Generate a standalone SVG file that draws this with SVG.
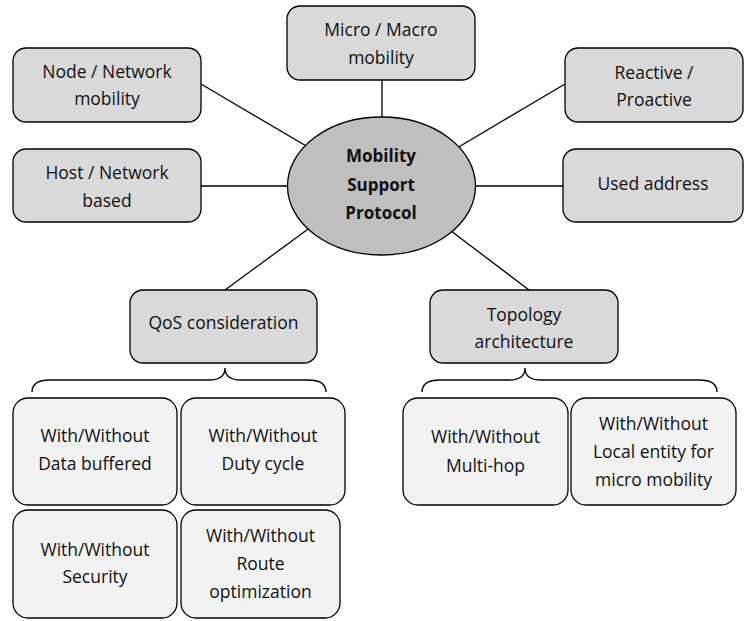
<svg xmlns="http://www.w3.org/2000/svg" width="744" height="621" viewBox="0 0 744 621">
<style>
.main{fill:#d9d9d9;stroke:#000;stroke-width:1.3}
.sub{fill:#f2f2f2;stroke:#000;stroke-width:1.3}
.hub{fill:#bfbfbf;stroke:#000;stroke-width:1.3}
.conn line,.conn path{stroke:#000;stroke-width:1.3;fill:none}
text{font-family:"Open Sans","Noto Sans",sans-serif;font-size:17.5px;fill:#111;text-anchor:middle}
.b{font-weight:bold;font-size:17px}
</style>
<rect width="744" height="621" fill="#fff"/>
<g id="connectors" class="conn">
<line x1="201" y1="84" x2="330" y2="160"/>
<line x1="201" y1="186" x2="300" y2="186"/>
<line x1="382" y1="80" x2="382" y2="130"/>
<line x1="565" y1="84" x2="430" y2="164"/>
<line x1="563" y1="186" x2="460" y2="186"/>
<line x1="225" y1="290" x2="330" y2="213"/>
<line x1="529" y1="290" x2="430" y2="215"/>
<path d="M32,392 C32,384 38,380 50,380 L209,380 C219,380 225,376 225,368 C225,376 231,380 241,380 L308,380 C320,380 326,384 326,392"/>
<path d="M422,392 C422,384 428,380 440,380 L509,380 C519,380 525,376 525,368 C525,376 531,380 541,380 L699,380 C711,380 717,384 717,392"/>
</g>
<g id="hub"><ellipse class="hub" cx="381.5" cy="186" rx="94" ry="69"/>
<text class="b" x="381" y="162">Mobility</text><text class="b" x="381" y="190.5">Support</text><text class="b" x="381" y="219">Protocol</text></g>
<g id="node-network"><rect class="main" x="13" y="48" width="188" height="74" rx="13"/><text x="107" y="77.5">Node / Network</text><text x="107" y="105">mobility</text></g>
<g id="host-network"><rect class="main" x="13" y="149" width="188" height="73" rx="13"/><text x="107" y="178.5">Host / Network</text><text x="107" y="206.5">based</text></g>
<g id="micro-macro"><rect class="main" x="287" y="6" width="188" height="74" rx="13"/><text x="381" y="36">Micro / Macro</text><text x="381" y="63.5">mobility</text></g>
<g id="reactive"><rect class="main" x="565" y="48" width="178" height="74" rx="13"/><text x="654" y="78.5">Reactive /</text><text x="654" y="106">Proactive</text></g>
<g id="used-address"><rect class="main" x="563" y="149" width="180" height="73" rx="13"/><text x="653" y="189.5">Used address</text></g>
<g id="qos"><rect class="main" x="130" y="290" width="187" height="73" rx="13"/><text x="223.5" y="328.5">QoS consideration</text></g>
<g id="topology"><rect class="main" x="430" y="290" width="188" height="73" rx="13"/><text x="524" y="321">Topology</text><text x="524" y="348.3">architecture</text></g>
<g id="data-buffered"><rect class="sub" x="13" y="398" width="164" height="107" rx="15"/><text x="95" y="441.7">With/Without</text><text x="95" y="470">Data buffered</text></g>
<g id="duty-cycle"><rect class="sub" x="181" y="398" width="164" height="107" rx="15"/><text x="263" y="441.7">With/Without</text><text x="263" y="470">Duty cycle</text></g>
<g id="security"><rect class="sub" x="13" y="510" width="164" height="108" rx="15"/><text x="95" y="555.7">With/Without</text><text x="95" y="583">Security</text></g>
<g id="route"><rect class="sub" x="181" y="510" width="159" height="108" rx="15"/><text x="260.5" y="541.7">With/Without</text><text x="260.5" y="570">Route</text><text x="260.5" y="598">optimization</text></g>
<g id="multi-hop"><rect class="sub" x="403" y="398" width="165" height="107" rx="15"/><text x="485.5" y="443.3">With/Without</text><text x="485.5" y="471.7">Multi-hop</text></g>
<g id="local-entity"><rect class="sub" x="571" y="398" width="165" height="107" rx="15"/><text x="653.5" y="430">With/Without</text><text x="653.5" y="458.3">Local entity for</text><text x="653.5" y="486">micro mobility</text></g>
</svg>
